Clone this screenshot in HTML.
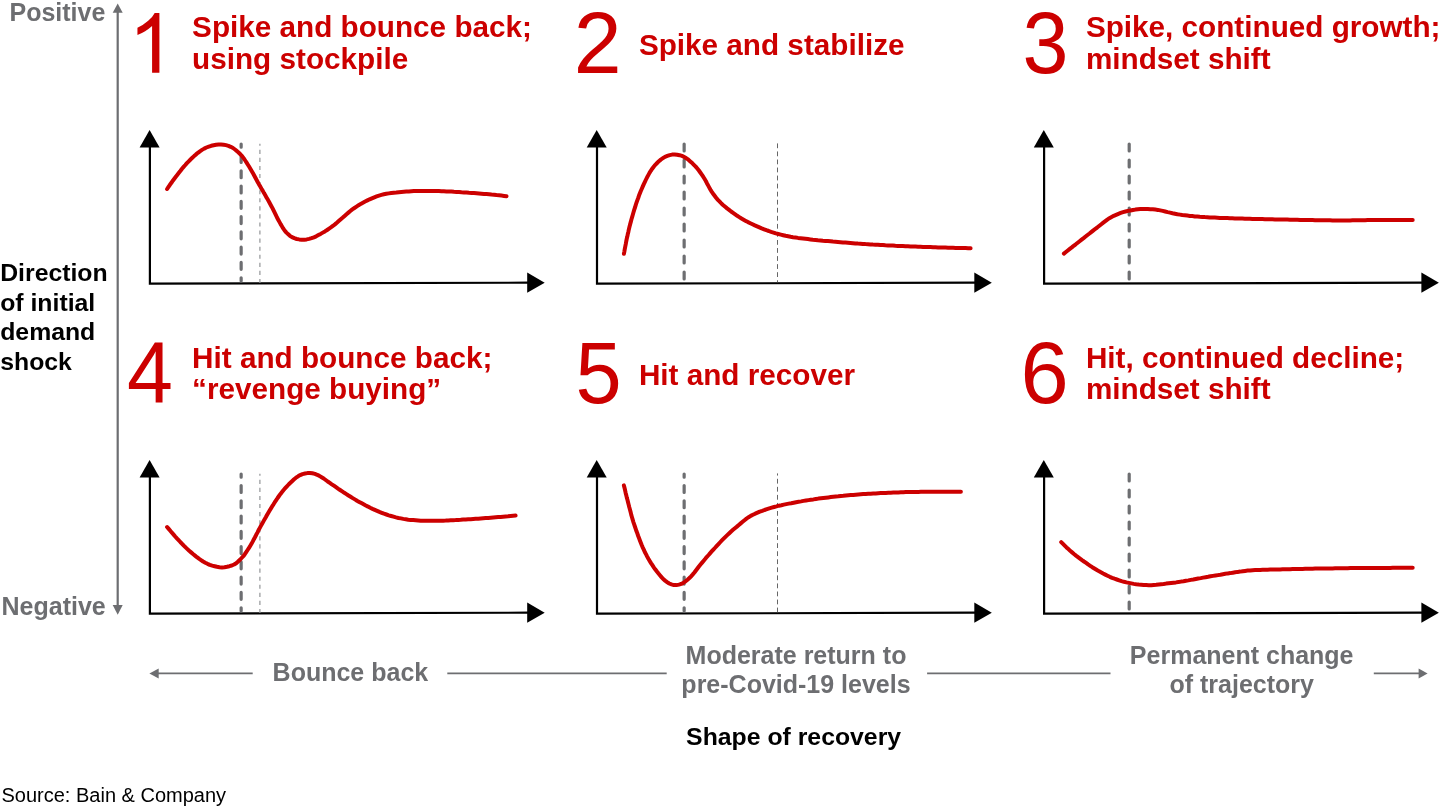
<!DOCTYPE html>
<html><head><meta charset="utf-8"><title>Shape of recovery</title>
<style>html,body{margin:0;padding:0;background:#fff;}body{width:1440px;height:810px;overflow:hidden;font-family:"Liberation Sans",sans-serif;}svg{display:block;will-change:transform;}text{font-family:"Liberation Sans",sans-serif;}.t{font-weight:bold;font-size:29.7px;fill:#cc0000}.n{fill:#cc0000}.g{font-weight:bold;font-size:25px;fill:#6d6e71}.k{font-weight:bold;font-size:24.8px;fill:#000}</style>
</head><body>
<svg width="1440" height="810" viewBox="0 0 1440 810">
<line x1="117.7" y1="10" x2="117.7" y2="607" stroke="#6d6e71" stroke-width="2.2"/>
<path d="M117.7,3.5 L122.7,12.7 L112.7,12.7 Z" fill="#6d6e71"/>
<path d="M117.7,614.8 L122.7,605 L112.7,605 Z" fill="#6d6e71"/>
<text class="g" x="9.5" y="21.1">Positive</text>
<text class="g" x="1.5" y="614.8">Negative</text>
<text class="k" x="0.2" y="280.7">Direction</text>
<text class="k" x="0.2" y="310.5">of initial</text>
<text class="k" x="0.2" y="340.3">demand</text>
<text class="k" x="0.2" y="370.1">shock</text>
<path d="M149.90,146 L149.90,283.65 L528.90,282.70" fill="none" stroke="#000" stroke-width="2.2" stroke-linejoin="miter"/>
<path d="M149.60,129.9 L159.60,147.4 L139.60,147.4 Z" fill="#000"/>
<path d="M544.70,282.70 L527.20,272.55 L527.20,292.85 Z" fill="#000"/>
<line x1="259.90" y1="143.7" x2="259.90" y2="283.15" stroke="#939598" stroke-width="1.2" stroke-dasharray="4.1 3.97" stroke-dashoffset="1.97"/>
<line x1="241.15" y1="144.0" x2="241.15" y2="280.95" stroke="#6d6e71" stroke-width="3.2" stroke-linecap="round" stroke-dasharray="6.9 8.37" stroke-dashoffset="3.7"/>
<path d="M167.1,189.0 L168.5,186.9 L169.9,184.8 L171.4,182.8 L172.8,180.7 L174.3,178.7 L175.8,176.7 L177.4,174.7 L178.9,172.8 L180.5,170.8 L182.0,168.8 L183.6,166.9 L185.3,165.0 L186.9,163.1 L188.7,161.3 L190.5,159.5 L192.3,157.8 L194.1,156.1 L196.0,154.4 L197.9,152.8 L199.9,151.3 L202.0,149.9 L204.2,148.6 L206.4,147.5 L208.8,146.6 L211.2,145.8 L213.6,145.2 L216.1,144.7 L218.6,144.4 L221.1,144.5 L223.6,144.7 L226.0,145.1 L228.4,145.8 L230.7,146.8 L233.0,148.0 L235.0,149.5 L237.0,151.1 L238.8,152.8 L240.6,154.5 L242.3,156.4 L243.8,158.4 L245.2,160.5 L246.6,162.6 L247.9,164.7 L249.2,166.8 L250.5,169.0 L251.8,171.2 L253.0,173.3 L254.2,175.5 L255.4,177.8 L256.6,180.0 L257.8,182.2 L259.0,184.4 L260.3,186.6 L261.5,188.8 L262.8,190.9 L264.0,193.1 L265.3,195.3 L266.5,197.4 L267.8,199.6 L269.0,201.8 L270.2,204.0 L271.4,206.2 L272.6,208.4 L273.7,210.7 L274.8,212.9 L275.9,215.2 L277.0,217.5 L278.2,219.7 L279.4,221.9 L280.6,224.1 L281.9,226.2 L283.2,228.4 L284.6,230.5 L286.2,232.4 L288.0,234.1 L289.9,235.8 L292.0,237.2 L294.3,238.2 L296.7,239.0 L299.2,239.4 L301.6,239.7 L304.2,239.7 L306.6,239.4 L309.1,238.9 L311.5,238.2 L313.9,237.3 L316.2,236.3 L318.4,235.1 L320.6,233.9 L322.8,232.6 L324.9,231.4 L327.1,230.0 L329.1,228.6 L331.2,227.2 L333.2,225.7 L335.2,224.1 L337.1,222.5 L339.0,220.8 L340.8,219.2 L342.8,217.5 L344.6,215.9 L346.5,214.2 L348.4,212.6 L350.3,211.0 L352.3,209.4 L354.4,208.0 L356.5,206.6 L358.6,205.2 L360.7,203.9 L362.9,202.7 L365.1,201.5 L367.4,200.4 L369.6,199.3 L371.9,198.3 L374.3,197.3 L376.6,196.4 L379.0,195.6 L381.4,194.9 L383.8,194.3 L386.3,193.8 L388.8,193.4 L391.3,193.0 L393.8,192.7 L396.3,192.5 L398.8,192.2 L401.3,192.0 L403.8,191.8 L406.3,191.6 L408.8,191.5 L411.3,191.3 L413.8,191.1 L416.3,191.0 L418.8,191.0 L421.3,191.0 L423.8,191.0 L426.3,191.0 L428.9,191.0 L431.4,191.0 L433.9,191.0 L436.4,191.0 L438.9,191.1 L441.4,191.2 L443.9,191.3 L446.4,191.4 L448.9,191.5 L451.4,191.6 L454.0,191.8 L456.5,191.9 L459.0,192.1 L461.5,192.3 L464.0,192.4 L466.5,192.6 L469.0,192.8 L471.5,192.9 L474.0,193.1 L476.5,193.3 L479.0,193.5 L481.5,193.7 L484.0,193.9 L486.5,194.1 L489.0,194.3 L491.5,194.6 L494.0,194.8 L496.5,195.1 L499.0,195.3 L501.5,195.6 L504.0,195.9 L506.5,196.2" fill="none" stroke="#cc0000" stroke-width="4" stroke-linecap="round" stroke-linejoin="round"/>
<path transform="translate(128.38,72.75) scale(0.04066,-0.04066)" fill="#cc0000" d="M763,0 L583,0 L583,1147 Q518,1085 412.5,1023 Q307,961 223,930 L223,1104 Q374,1175 487,1276 Q600,1377 647,1472 L763,1472 Z"/>
<text class="t" x="192.1" y="36.9">Spike and bounce back;</text>
<text class="t" x="192.1" y="68.5">using stockpile</text>
<path d="M597.00,146 L597.00,283.65 L976.00,282.70" fill="none" stroke="#000" stroke-width="2.2" stroke-linejoin="miter"/>
<path d="M596.70,129.9 L606.70,147.4 L586.70,147.4 Z" fill="#000"/>
<path d="M991.80,282.70 L974.30,272.55 L974.30,292.85 Z" fill="#000"/>
<line x1="777.50" y1="143.4" x2="777.50" y2="282.45" stroke="#555" stroke-width="0.9" stroke-dasharray="4.8 3.25" stroke-dashoffset="0"/>
<line x1="684.15" y1="144.0" x2="684.15" y2="280.95" stroke="#6d6e71" stroke-width="3.2" stroke-linecap="round" stroke-dasharray="7 9"/>
<path d="M623.9,253.8 L624.4,251.3 L624.8,248.9 L625.3,246.4 L625.8,243.9 L626.2,241.5 L626.7,239.0 L627.3,236.6 L627.8,234.1 L628.4,231.7 L628.9,229.2 L629.5,226.8 L630.1,224.4 L630.8,221.9 L631.4,219.5 L632.1,217.1 L632.8,214.7 L633.5,212.3 L634.2,209.9 L635.0,207.5 L635.7,205.1 L636.5,202.7 L637.3,200.4 L638.2,198.0 L639.0,195.6 L639.9,193.3 L640.8,191.0 L641.8,188.7 L642.8,186.4 L643.8,184.1 L644.9,181.8 L646.0,179.5 L647.1,177.3 L648.3,175.1 L649.5,172.9 L650.8,170.8 L652.2,168.7 L653.7,166.7 L655.3,164.8 L657.1,163.0 L658.9,161.2 L660.8,159.6 L662.9,158.2 L665.0,156.8 L667.3,155.9 L669.7,155.1 L672.1,154.6 L674.6,154.4 L677.1,154.7 L679.6,155.2 L682.0,155.9 L684.2,157.0 L686.4,158.3 L688.4,159.7 L690.3,161.4 L692.2,163.1 L693.9,164.8 L695.7,166.6 L697.3,168.5 L698.9,170.5 L700.3,172.5 L701.8,174.6 L703.2,176.7 L704.5,178.8 L705.8,181.0 L706.9,183.2 L708.1,185.4 L709.3,187.6 L710.5,189.8 L711.8,191.9 L713.3,194.0 L714.8,196.0 L716.3,198.0 L717.9,199.9 L719.7,201.7 L721.4,203.5 L723.3,205.2 L725.2,206.8 L727.1,208.4 L729.1,209.9 L731.1,211.5 L733.1,212.9 L735.2,214.4 L737.2,215.8 L739.3,217.1 L741.5,218.5 L743.6,219.7 L745.8,220.9 L748.0,222.1 L750.3,223.2 L752.5,224.3 L754.8,225.4 L757.1,226.4 L759.4,227.4 L761.7,228.4 L764.1,229.3 L766.4,230.2 L768.8,231.0 L771.1,231.9 L773.5,232.6 L775.9,233.4 L778.3,234.0 L780.8,234.6 L783.2,235.2 L785.6,235.8 L788.1,236.3 L790.6,236.8 L793.0,237.2 L795.5,237.5 L798.0,237.9 L800.5,238.2 L803.0,238.5 L805.4,238.8 L807.9,239.1 L810.4,239.4 L812.9,239.7 L815.4,239.9 L817.9,240.2 L820.4,240.4 L822.9,240.7 L825.4,240.9 L827.9,241.1 L830.4,241.3 L832.9,241.6 L835.4,241.8 L837.9,242.0 L840.4,242.2 L842.9,242.4 L845.4,242.6 L847.9,242.8 L850.4,243.0 L852.9,243.2 L855.4,243.4 L857.9,243.6 L860.4,243.7 L862.9,243.9 L865.4,244.1 L867.9,244.2 L870.4,244.4 L872.9,244.6 L875.4,244.7 L877.9,244.8 L880.4,245.0 L882.9,245.1 L885.4,245.3 L887.9,245.4 L890.4,245.5 L892.9,245.6 L895.4,245.8 L897.9,245.9 L900.4,246.0 L902.9,246.1 L905.4,246.2 L908.0,246.3 L910.5,246.4 L913.0,246.5 L915.5,246.6 L918.0,246.7 L920.5,246.8 L923.0,246.9 L925.5,247.0 L928.0,247.1 L930.5,247.1 L933.0,247.2 L935.5,247.3 L938.0,247.4 L940.5,247.5 L943.0,247.5 L945.5,247.6 L948.0,247.7 L950.5,247.7 L953.1,247.8 L955.6,247.9 L958.1,247.9 L960.6,248.0 L963.1,248.0 L965.6,248.1 L968.1,248.2 L970.6,248.2" fill="none" stroke="#cc0000" stroke-width="4" stroke-linecap="round" stroke-linejoin="round"/>
<text class="n" font-size="86.3" transform="translate(573.8,72.75) scale(0.997,1)">2</text>
<text class="t" x="638.9" y="55.0">Spike and stabilize</text>
<path d="M1044.10,146 L1044.10,283.65 L1423.10,282.70" fill="none" stroke="#000" stroke-width="2.2" stroke-linejoin="miter"/>
<path d="M1043.80,129.9 L1053.80,147.4 L1033.80,147.4 Z" fill="#000"/>
<path d="M1438.90,282.70 L1421.40,272.55 L1421.40,292.85 Z" fill="#000"/>
<line x1="1129.20" y1="144.0" x2="1129.20" y2="280.95" stroke="#6d6e71" stroke-width="3.2" stroke-linecap="round" stroke-dasharray="7 9"/>
<path d="M1063.9,253.6 L1065.9,252.0 L1067.8,250.5 L1069.8,248.9 L1071.8,247.4 L1073.7,245.8 L1075.7,244.3 L1077.7,242.7 L1079.6,241.2 L1081.6,239.6 L1083.6,238.1 L1085.6,236.5 L1087.5,235.0 L1089.5,233.5 L1091.5,231.9 L1093.4,230.4 L1095.4,228.8 L1097.4,227.3 L1099.4,225.7 L1101.3,224.2 L1103.3,222.6 L1105.3,221.1 L1107.3,219.6 L1109.4,218.2 L1111.6,217.0 L1113.8,215.8 L1116.1,214.8 L1118.4,213.8 L1120.7,212.9 L1123.1,212.1 L1125.5,211.5 L1127.9,210.9 L1130.4,210.5 L1132.9,210.0 L1135.4,209.6 L1137.8,209.3 L1140.3,209.1 L1142.8,208.9 L1145.3,208.9 L1147.8,209.0 L1150.3,209.2 L1152.8,209.3 L1155.3,209.6 L1157.8,209.9 L1160.3,210.4 L1162.7,210.9 L1165.2,211.5 L1167.6,212.1 L1170.0,212.6 L1172.5,213.2 L1174.9,213.7 L1177.4,214.2 L1179.9,214.6 L1182.3,215.0 L1184.8,215.3 L1187.3,215.6 L1189.8,215.9 L1192.3,216.1 L1194.8,216.4 L1197.3,216.6 L1199.8,216.8 L1202.3,216.9 L1204.8,217.1 L1207.3,217.2 L1209.8,217.4 L1212.3,217.5 L1214.8,217.6 L1217.3,217.7 L1219.8,217.9 L1222.3,218.0 L1224.8,218.1 L1227.3,218.1 L1229.8,218.2 L1232.3,218.3 L1234.8,218.4 L1237.3,218.5 L1239.8,218.5 L1242.3,218.6 L1244.8,218.7 L1247.3,218.8 L1249.9,218.8 L1252.4,218.9 L1254.9,219.0 L1257.4,219.0 L1259.9,219.1 L1262.4,219.1 L1264.9,219.2 L1267.4,219.2 L1269.9,219.3 L1272.4,219.3 L1274.9,219.4 L1277.4,219.4 L1279.9,219.5 L1282.4,219.5 L1284.9,219.6 L1287.4,219.6 L1289.9,219.7 L1292.4,219.7 L1294.9,219.8 L1297.4,219.8 L1300.0,219.9 L1302.5,219.9 L1305.0,220.0 L1307.5,220.0 L1310.0,220.1 L1312.5,220.1 L1315.0,220.2 L1317.5,220.2 L1320.0,220.2 L1322.5,220.3 L1325.0,220.3 L1327.5,220.3 L1330.0,220.3 L1332.5,220.4 L1335.0,220.4 L1337.5,220.4 L1340.0,220.4 L1342.5,220.4 L1345.1,220.4 L1347.6,220.4 L1350.1,220.4 L1352.6,220.3 L1355.1,220.3 L1357.6,220.3 L1360.1,220.2 L1362.6,220.2 L1365.1,220.2 L1367.6,220.1 L1370.1,220.1 L1372.6,220.1 L1375.1,220.1 L1377.6,220.0 L1380.1,220.0 L1382.6,220.0 L1385.1,220.0 L1387.6,220.0 L1390.1,220.0 L1392.7,220.0 L1395.2,220.0 L1397.7,220.0 L1400.2,220.0 L1402.7,220.0 L1405.2,220.0 L1407.7,220.0 L1410.2,220.0 L1412.7,220.0" fill="none" stroke="#cc0000" stroke-width="4" stroke-linecap="round" stroke-linejoin="round"/>
<text class="n" font-size="86.5" transform="translate(1022.5,73.15) scale(0.9545,1)">3</text>
<text class="t" x="1085.9" y="36.9">Spike, continued growth;</text>
<text class="t" x="1085.9" y="68.5">mindset shift</text>
<path d="M149.90,476 L149.90,613.65 L528.90,612.70" fill="none" stroke="#000" stroke-width="2.2" stroke-linejoin="miter"/>
<path d="M149.60,459.9 L159.60,477.4 L139.60,477.4 Z" fill="#000"/>
<path d="M544.70,612.70 L527.20,602.55 L527.20,622.85 Z" fill="#000"/>
<line x1="259.90" y1="473.7" x2="259.90" y2="613.15" stroke="#939598" stroke-width="1.2" stroke-dasharray="4.1 3.97" stroke-dashoffset="1.97"/>
<line x1="241.15" y1="474.0" x2="241.15" y2="610.95" stroke="#6d6e71" stroke-width="3.2" stroke-linecap="round" stroke-dasharray="6.9 8.37" stroke-dashoffset="3.7"/>
<path d="M167.1,527.0 L168.7,528.9 L170.3,530.8 L171.9,532.7 L173.6,534.6 L175.2,536.5 L176.9,538.4 L178.6,540.2 L180.3,542.0 L182.1,543.8 L183.8,545.6 L185.6,547.4 L187.4,549.1 L189.2,550.8 L191.1,552.4 L193.0,554.0 L195.0,555.6 L196.9,557.2 L198.9,558.7 L201.0,560.1 L203.1,561.5 L205.3,562.7 L207.5,563.8 L209.8,564.8 L212.2,565.6 L214.6,566.2 L217.0,566.8 L219.5,567.2 L222.0,567.4 L224.5,567.3 L227.0,566.8 L229.4,566.2 L231.8,565.5 L234.1,564.5 L236.2,563.2 L238.1,561.5 L239.9,559.8 L241.6,558.0 L243.3,556.2 L244.8,554.2 L246.2,552.1 L247.6,550.0 L249.0,547.9 L250.3,545.8 L251.6,543.6 L252.8,541.4 L253.9,539.2 L255.1,537.0 L256.2,534.8 L257.4,532.6 L258.5,530.3 L259.7,528.1 L260.9,525.9 L262.1,523.8 L263.3,521.6 L264.5,519.4 L265.8,517.2 L267.0,515.0 L268.2,512.9 L269.5,510.7 L270.8,508.6 L272.1,506.4 L273.5,504.3 L274.8,502.2 L276.2,500.1 L277.6,498.0 L279.0,496.0 L280.5,493.9 L282.0,492.0 L283.6,490.0 L285.2,488.2 L286.9,486.3 L288.6,484.5 L290.4,482.8 L292.3,481.0 L294.1,479.3 L296.0,477.7 L298.1,476.3 L300.2,475.1 L302.5,474.1 L305.0,473.5 L307.4,473.1 L309.9,473.0 L312.4,473.3 L314.9,473.9 L317.2,474.8 L319.4,475.9 L321.6,477.2 L323.7,478.5 L325.7,480.0 L327.7,481.5 L329.8,482.9 L331.8,484.3 L333.9,485.7 L336.0,487.2 L338.0,488.6 L340.1,490.0 L342.2,491.4 L344.3,492.8 L346.4,494.1 L348.5,495.5 L350.6,496.8 L352.7,498.1 L354.9,499.4 L357.0,500.7 L359.2,501.9 L361.4,503.1 L363.6,504.3 L365.8,505.5 L368.0,506.6 L370.2,507.8 L372.5,508.9 L374.8,509.9 L377.1,510.9 L379.4,511.9 L381.7,512.8 L384.0,513.7 L386.4,514.5 L388.8,515.3 L391.1,516.0 L393.5,516.7 L396.0,517.4 L398.4,518.0 L400.9,518.4 L403.3,518.9 L405.8,519.3 L408.3,519.7 L410.7,519.9 L413.2,520.1 L415.7,520.3 L418.2,520.5 L420.7,520.7 L423.2,520.8 L425.7,520.8 L428.2,520.8 L430.7,520.8 L433.2,520.8 L435.7,520.8 L438.2,520.8 L440.7,520.8 L443.2,520.7 L445.7,520.6 L448.2,520.4 L450.7,520.3 L453.2,520.2 L455.7,520.1 L458.2,519.9 L460.7,519.8 L463.2,519.6 L465.7,519.5 L468.2,519.3 L470.7,519.2 L473.2,519.0 L475.7,518.8 L478.2,518.7 L480.7,518.5 L483.2,518.3 L485.7,518.1 L488.2,517.9 L490.7,517.7 L493.2,517.5 L495.7,517.3 L498.2,517.1 L500.6,516.9 L503.1,516.7 L505.6,516.5 L508.1,516.3 L510.6,516.0 L513.1,515.8 L515.6,515.6" fill="none" stroke="#cc0000" stroke-width="4" stroke-linecap="round" stroke-linejoin="round"/>
<text class="n" font-size="87.0" transform="translate(127.1,402.75) scale(0.949,1)">4</text>
<text class="t" x="192.1" y="367.6">Hit and bounce back;</text>
<text class="t" x="192.1" y="399.2">“revenge buying”</text>
<path d="M597.00,476 L597.00,613.65 L976.00,612.70" fill="none" stroke="#000" stroke-width="2.2" stroke-linejoin="miter"/>
<path d="M596.70,459.9 L606.70,477.4 L586.70,477.4 Z" fill="#000"/>
<path d="M991.80,612.70 L974.30,602.55 L974.30,622.85 Z" fill="#000"/>
<line x1="777.50" y1="473.4" x2="777.50" y2="612.45" stroke="#555" stroke-width="0.9" stroke-dasharray="4.8 3.25" stroke-dashoffset="2.65"/>
<line x1="684.15" y1="474.0" x2="684.15" y2="610.95" stroke="#6d6e71" stroke-width="3.2" stroke-linecap="round" stroke-dasharray="6.9 8.37" stroke-dashoffset="3.7"/>
<path d="M623.9,485.4 L624.5,487.8 L625.1,490.3 L625.6,492.7 L626.2,495.1 L626.8,497.6 L627.5,500.0 L628.1,502.4 L628.7,504.9 L629.3,507.3 L630.0,509.7 L630.6,512.1 L631.2,514.6 L631.9,517.0 L632.6,519.4 L633.3,521.8 L634.1,524.2 L634.9,526.5 L635.7,528.9 L636.5,531.3 L637.4,533.6 L638.2,536.0 L639.1,538.3 L640.0,540.7 L640.9,543.0 L641.8,545.3 L642.8,547.6 L643.9,549.9 L644.9,552.2 L646.1,554.4 L647.2,556.6 L648.4,558.8 L649.7,561.0 L651.0,563.1 L652.4,565.2 L653.8,567.3 L655.2,569.3 L656.7,571.3 L658.3,573.3 L659.9,575.2 L661.5,577.1 L663.2,579.0 L665.1,580.6 L667.1,582.1 L669.2,583.5 L671.5,584.4 L673.9,585.1 L676.4,585.1 L678.9,584.6 L681.3,583.9 L683.5,582.7 L685.6,581.3 L687.5,579.7 L689.4,578.0 L691.1,576.3 L692.8,574.4 L694.4,572.5 L695.9,570.5 L697.4,568.5 L698.9,566.5 L700.5,564.5 L702.1,562.6 L703.7,560.7 L705.3,558.8 L706.9,556.8 L708.6,555.0 L710.2,553.1 L711.9,551.2 L713.6,549.3 L715.3,547.5 L717.0,545.6 L718.7,543.8 L720.4,542.0 L722.1,540.2 L723.9,538.4 L725.7,536.6 L727.5,534.9 L729.3,533.2 L731.1,531.5 L733.0,529.8 L734.9,528.2 L736.9,526.6 L738.8,525.0 L740.7,523.4 L742.6,521.8 L744.5,520.2 L746.5,518.6 L748.6,517.2 L750.7,515.9 L752.9,514.8 L755.2,513.7 L757.5,512.7 L759.8,511.7 L762.2,510.9 L764.5,510.0 L766.9,509.2 L769.3,508.4 L771.7,507.7 L774.1,507.0 L776.5,506.4 L778.9,505.7 L781.4,505.2 L783.8,504.6 L786.3,504.1 L788.7,503.6 L791.2,503.2 L793.7,502.7 L796.1,502.2 L798.6,501.8 L801.1,501.4 L803.5,500.9 L806.0,500.5 L808.5,500.1 L810.9,499.7 L813.4,499.4 L815.9,499.0 L818.4,498.6 L820.9,498.3 L823.3,498.0 L825.8,497.7 L828.3,497.4 L830.8,497.1 L833.3,496.8 L835.8,496.5 L838.3,496.3 L840.8,496.0 L843.3,495.8 L845.8,495.5 L848.3,495.3 L850.7,495.1 L853.2,494.9 L855.7,494.7 L858.2,494.5 L860.7,494.3 L863.2,494.1 L865.7,494.0 L868.2,493.8 L870.7,493.7 L873.2,493.5 L875.7,493.4 L878.2,493.2 L880.7,493.1 L883.3,493.0 L885.8,492.9 L888.3,492.8 L890.8,492.7 L893.3,492.6 L895.8,492.5 L898.3,492.4 L900.8,492.3 L903.3,492.2 L905.8,492.1 L908.3,492.1 L910.8,492.0 L913.3,492.0 L915.8,491.9 L918.3,491.9 L920.8,491.8 L923.3,491.8 L925.8,491.8 L928.3,491.7 L930.8,491.7 L933.3,491.7 L935.8,491.7 L938.4,491.7 L940.9,491.7 L943.4,491.7 L945.9,491.7 L948.4,491.7 L950.9,491.7 L953.4,491.7 L955.9,491.7 L958.4,491.7 L960.9,491.7" fill="none" stroke="#cc0000" stroke-width="4" stroke-linecap="round" stroke-linejoin="round"/>
<text class="n" font-size="86.35" transform="translate(575.4,403.15) scale(0.961,1)">5</text>
<text class="t" x="638.9" y="385.0">Hit and recover</text>
<path d="M1044.10,476 L1044.10,613.65 L1423.10,612.70" fill="none" stroke="#000" stroke-width="2.2" stroke-linejoin="miter"/>
<path d="M1043.80,459.9 L1053.80,477.4 L1033.80,477.4 Z" fill="#000"/>
<path d="M1438.90,612.70 L1421.40,602.55 L1421.40,622.85 Z" fill="#000"/>
<line x1="1129.20" y1="474.0" x2="1129.20" y2="610.95" stroke="#6d6e71" stroke-width="3.2" stroke-linecap="round" stroke-dasharray="7 9"/>
<path d="M1061.2,542.1 L1063.0,543.9 L1064.7,545.6 L1066.5,547.4 L1068.4,549.1 L1070.2,550.8 L1072.1,552.4 L1074.0,554.0 L1076.0,555.6 L1078.0,557.1 L1080.0,558.6 L1082.0,560.1 L1084.0,561.5 L1086.1,562.9 L1088.1,564.4 L1090.2,565.8 L1092.3,567.2 L1094.4,568.5 L1096.5,569.8 L1098.7,571.1 L1100.9,572.3 L1103.1,573.5 L1105.3,574.6 L1107.5,575.7 L1109.8,576.8 L1112.1,577.8 L1114.5,578.7 L1116.8,579.5 L1119.2,580.3 L1121.6,581.1 L1124.0,581.8 L1126.4,582.4 L1128.8,582.9 L1131.3,583.4 L1133.7,583.9 L1136.2,584.3 L1138.7,584.6 L1141.2,584.8 L1143.7,585.0 L1146.2,585.1 L1148.7,585.2 L1151.2,585.2 L1153.7,585.0 L1156.2,584.8 L1158.7,584.5 L1161.1,584.2 L1163.6,584.0 L1166.1,583.6 L1168.6,583.3 L1171.1,583.0 L1173.6,582.7 L1176.0,582.4 L1178.5,582.0 L1181.0,581.6 L1183.5,581.3 L1185.9,580.8 L1188.4,580.4 L1190.8,579.9 L1193.3,579.5 L1195.8,579.0 L1198.2,578.5 L1200.7,578.1 L1203.1,577.6 L1205.6,577.2 L1208.1,576.8 L1210.5,576.3 L1213.0,575.9 L1215.5,575.5 L1217.9,575.1 L1220.4,574.7 L1222.9,574.2 L1225.3,573.8 L1227.8,573.4 L1230.3,573.1 L1232.8,572.7 L1235.2,572.3 L1237.7,571.9 L1240.2,571.6 L1242.7,571.2 L1245.1,570.9 L1247.6,570.6 L1250.1,570.4 L1252.6,570.2 L1255.1,570.1 L1257.6,570.0 L1260.1,569.9 L1262.6,569.8 L1265.1,569.8 L1267.6,569.7 L1270.1,569.6 L1272.6,569.6 L1275.1,569.5 L1277.6,569.4 L1280.1,569.4 L1282.6,569.3 L1285.1,569.3 L1287.6,569.2 L1290.1,569.2 L1292.6,569.1 L1295.1,569.0 L1297.6,569.0 L1300.1,568.9 L1302.6,568.9 L1305.1,568.8 L1307.6,568.8 L1310.1,568.7 L1312.6,568.7 L1315.1,568.6 L1317.6,568.6 L1320.1,568.6 L1322.6,568.5 L1325.1,568.5 L1327.6,568.4 L1330.1,568.4 L1332.6,568.4 L1335.1,568.3 L1337.6,568.3 L1340.1,568.3 L1342.7,568.2 L1345.2,568.2 L1347.7,568.2 L1350.2,568.1 L1352.7,568.1 L1355.2,568.1 L1357.7,568.1 L1360.2,568.0 L1362.7,568.0 L1365.2,568.0 L1367.7,568.0 L1370.2,568.0 L1372.7,567.9 L1375.2,567.9 L1377.7,567.9 L1380.2,567.9 L1382.7,567.9 L1385.2,567.9 L1387.7,567.9 L1390.2,567.9 L1392.7,567.8 L1395.2,567.8 L1397.7,567.8 L1400.2,567.8 L1402.7,567.8 L1405.2,567.8 L1407.7,567.8 L1410.2,567.8 L1412.7,567.8" fill="none" stroke="#cc0000" stroke-width="4" stroke-linecap="round" stroke-linejoin="round"/>
<text class="n" font-size="86.85" transform="translate(1020.6,403.15) scale(0.998,1)">6</text>
<text class="t" x="1085.9" y="367.6">Hit, continued decline;</text>
<text class="t" x="1085.9" y="399.2">mindset shift</text>
<g stroke="#6d6e71" stroke-width="1.8">
<line x1="156" y1="673.4" x2="252.7" y2="673.4"/>
<line x1="447.3" y1="673.4" x2="666.7" y2="673.4"/>
<line x1="927.1" y1="673.4" x2="1110.5" y2="673.4"/>
<line x1="1373.8" y1="673.4" x2="1420" y2="673.4"/>
</g>
<path d="M149.4,673.4 L158.7,668.4 L158.7,678.4 Z" fill="#6d6e71"/>
<path d="M1427.6,673.4 L1418.6,668.4 L1418.6,678.4 Z" fill="#6d6e71"/>
<text class="g" x="350.4" y="680.6" text-anchor="middle">Bounce back</text>
<text class="g" x="796" y="663.8" text-anchor="middle">Moderate return to</text>
<text class="g" x="796" y="693.2" text-anchor="middle">pre-Covid-19 levels</text>
<text class="g" x="1241.7" y="663.8" text-anchor="middle">Permanent change</text>
<text class="g" x="1241.7" y="693.2" text-anchor="middle">of trajectory</text>
<text class="k" x="793.6" y="745.1" text-anchor="middle">Shape of recovery</text>
<text x="1.5" y="801.8" font-size="20" fill="#000">Source: Bain &amp; Company</text>
</svg>
</body></html>
